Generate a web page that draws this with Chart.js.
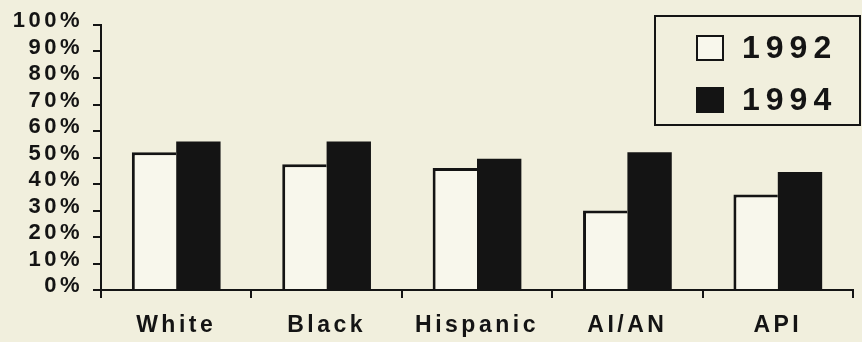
<!DOCTYPE html>
<html>
<head>
<meta charset="utf-8">
<script src="https://cdn.jsdelivr.net/npm/chart.js@4/dist/chart.umd.min.js"></script>
<style>
  html, body { margin: 0; padding: 0; background: #f1efdd; }
  #wrap { width: 862px; height: 342px; position: relative; }
</style>
</head>
<body>
<div id="wrap"><canvas id="c" width="862" height="342"></canvas></div>
<script>
// Share of each group, by year (percent)
const categories = ['White', 'Black', 'Hispanic', 'AI/AN', 'API'];
const series1992 = [52, 47.5, 46, 30, 36];
const series1994 = [56, 56, 49.5, 52, 44.5];
const yTicks = [0, 10, 20, 30, 40, 50, 60, 70, 80, 90, 100];

const INK = '#141414';
const PALE = '#f8f7ec';
const FONT = '"Liberation Sans", Arial, sans-serif';

// Spaced-out lettering for the axis labels
const spacing = {
  id: 'spacing',
  beforeUpdate(chart) { chart.ctx.letterSpacing = '3.5px'; },
  beforeDraw(chart) { chart.ctx.letterSpacing = '3.5px'; }
};

// Boxed legend in the upper right corner
const boxedLegend = {
  id: 'boxedLegend',
  afterDraw(chart) {
    const { ctx, chartArea } = chart;
    const x0 = chartArea.right - 198, y0 = chartArea.top - 9;
    const w = 205, h = 109;
    ctx.save();
    ctx.letterSpacing = '6px';
    ctx.fillStyle = '#f1efdd';
    ctx.fillRect(x0, y0, w, h);
    ctx.strokeStyle = INK;
    ctx.lineWidth = 2;
    ctx.strokeRect(x0, y0, w, h);
    chart.data.datasets.forEach((ds, i) => {
      const cy = y0 + 32 + i * 52;
      const sx = x0 + 42;
      ctx.fillStyle = ds.backgroundColor;
      ctx.fillRect(sx, cy - 12, 26, 24);
      ctx.strokeStyle = INK;
      ctx.lineWidth = 2;
      ctx.strokeRect(sx, cy - 12, 26, 24);
      ctx.fillStyle = INK;
      ctx.font = 'bold 32px ' + FONT;
      ctx.textBaseline = 'middle';
      ctx.textAlign = 'left';
      ctx.fillText(ds.label, sx + 45, cy + 1);
    });
    ctx.restore();
  }
};

new Chart(document.getElementById('c'), {
  type: 'bar',
  data: {
    labels: categories,
    datasets: [
      { label: '1992', data: series1992, backgroundColor: PALE, borderColor: INK,
        borderWidth: { left: 3, top: 3, right: 0, bottom: 0 }, borderSkipped: false },
      { label: '1994', data: series1994, backgroundColor: INK, borderColor: INK, borderWidth: 0 }
    ]
  },
  options: {
    responsive: false,
    animation: false,
    devicePixelRatio: 1,
    layout: { padding: { top: 25, right: 9, left: 0, bottom: 0 } },
    datasets: { bar: { categoryPercentage: 0.59, barPercentage: 1 } },
    plugins: { legend: { display: false }, tooltip: { enabled: false } },
    scales: {
      x: {
        offset: true,
        grid: { offset: true, drawOnChartArea: false, drawTicks: true, tickLength: 8, color: INK, lineWidth: 2 },
        border: { display: true, color: INK, width: 2 },
        ticks: { color: INK, padding: 14, font: { family: FONT, size: 23, weight: 'bold' }, maxRotation: 0, autoSkip: false },
        afterFit(scale) { scale.height = 52; }
      },
      y: {
        min: 0, max: 100,
        afterBuildTicks(scale) { scale.ticks = yTicks.map(v => ({ value: v })); },
        grid: { drawOnChartArea: false, drawTicks: true, tickLength: 8, color: INK, lineWidth: 2 },
        border: { display: true, color: INK, width: 2 },
        ticks: { color: INK, padding: 10, labelOffset: -4, autoSkip: false,
                 font: { family: FONT, size: 22, weight: 'bold' },
                 callback: v => v + '%' },
        afterFit(scale) { scale.width = 101; }
      }
    }
  },
  plugins: [spacing, boxedLegend]
});
</script>
</body>
</html>
